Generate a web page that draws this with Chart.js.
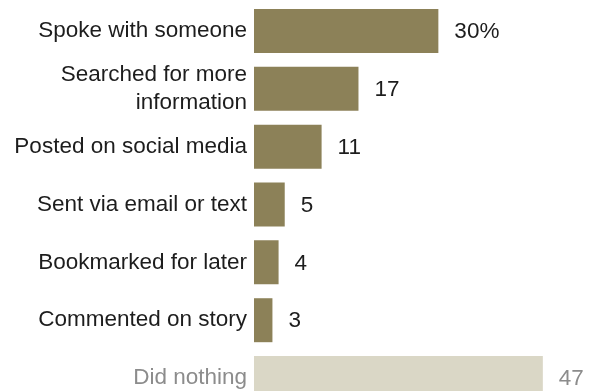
<!DOCTYPE html>
<html>
<head>
<meta charset="utf-8">
<script src="https://cdn.jsdelivr.net/npm/chart.js@4"></script>
<style>
  html, body { margin: 0; padding: 0; background: #fff; height: 391px; overflow: hidden; }
  #wrap { position: relative; width: 592px; height: 407px; }
</style>
</head>
<body>
<div id="wrap"><canvas id="chart"></canvas></div>
<script>
// Chart data
const categories = [
    'Spoke with someone',
    ['Searched for more', 'information'],
    'Posted on social media',
    'Sent via email or text',
    'Bookmarked for later',
    'Commented on story',
    'Did nothing'
];
const values = [30, 17, 11, 5, 4, 3, 47];
const valueLabels = ['30%', '17', '11', '5', '4', '3', '47'];

const barColor = '#8C8158';
const mutedBarColor = '#DAD7C6';
const textColor = '#1d1d1d';
const mutedTextColor = '#8c8c8c';
const lastIndex = values.length - 1;

const fontFamily = '"Liberation Sans", Arial, sans-serif';

// Draws the value next to each bar
const valueLabelPlugin = {
    id: 'valueLabels',
    afterDatasetsDraw(chart) {
        const ctx = chart.ctx;
        const meta = chart.getDatasetMeta(0);
        ctx.save();
        ctx.font = '22.5px ' + fontFamily;
        ctx.textAlign = 'left';
        ctx.textBaseline = 'middle';
        meta.data.forEach((bar, i) => {
            ctx.fillStyle = i === lastIndex ? mutedTextColor : textColor;
            ctx.fillText(valueLabels[i], bar.x + 16, bar.y + 1);
        });
        ctx.restore();
    }
};

const ctx = document.getElementById('chart').getContext('2d');
const chart = new Chart(ctx, {
    type: 'bar',
    data: {
        labels: categories,
        datasets: [{
            data: values,
            backgroundColor: values.map((v, i) => i === lastIndex ? mutedBarColor : barColor),
            borderWidth: 0,
            barPercentage: 0.76,
            categoryPercentage: 1
        }]
    },
    options: {
        indexAxis: 'y',
        responsive: true,
        maintainAspectRatio: false,
        animation: false,
        layout: {
            padding: { top: 2, right: 0, bottom: 0, left: 0 }
        },
        plugins: {
            legend: { display: false },
            tooltip: { enabled: false }
        },
        scales: {
            x: {
                display: false,
                min: 0,
                max: 55
            },
            y: {
                grid: { display: false, drawTicks: false },
                border: { display: false },
                afterFit(scale) {
                    // fixed label column, no extra room for edge labels
                    scale.width = 254;
                    scale.paddingTop = 0;
                    scale.paddingBottom = 0;
                },
                ticks: {
                    padding: 7,
                    autoSkip: false,
                    color: (c) => c.index === lastIndex ? mutedTextColor : textColor,
                    font: { family: fontFamily, size: 22.5, lineHeight: 1.23 }
                }
            }
        }
    },
    plugins: [valueLabelPlugin]
});
</script>
</body>
</html>
